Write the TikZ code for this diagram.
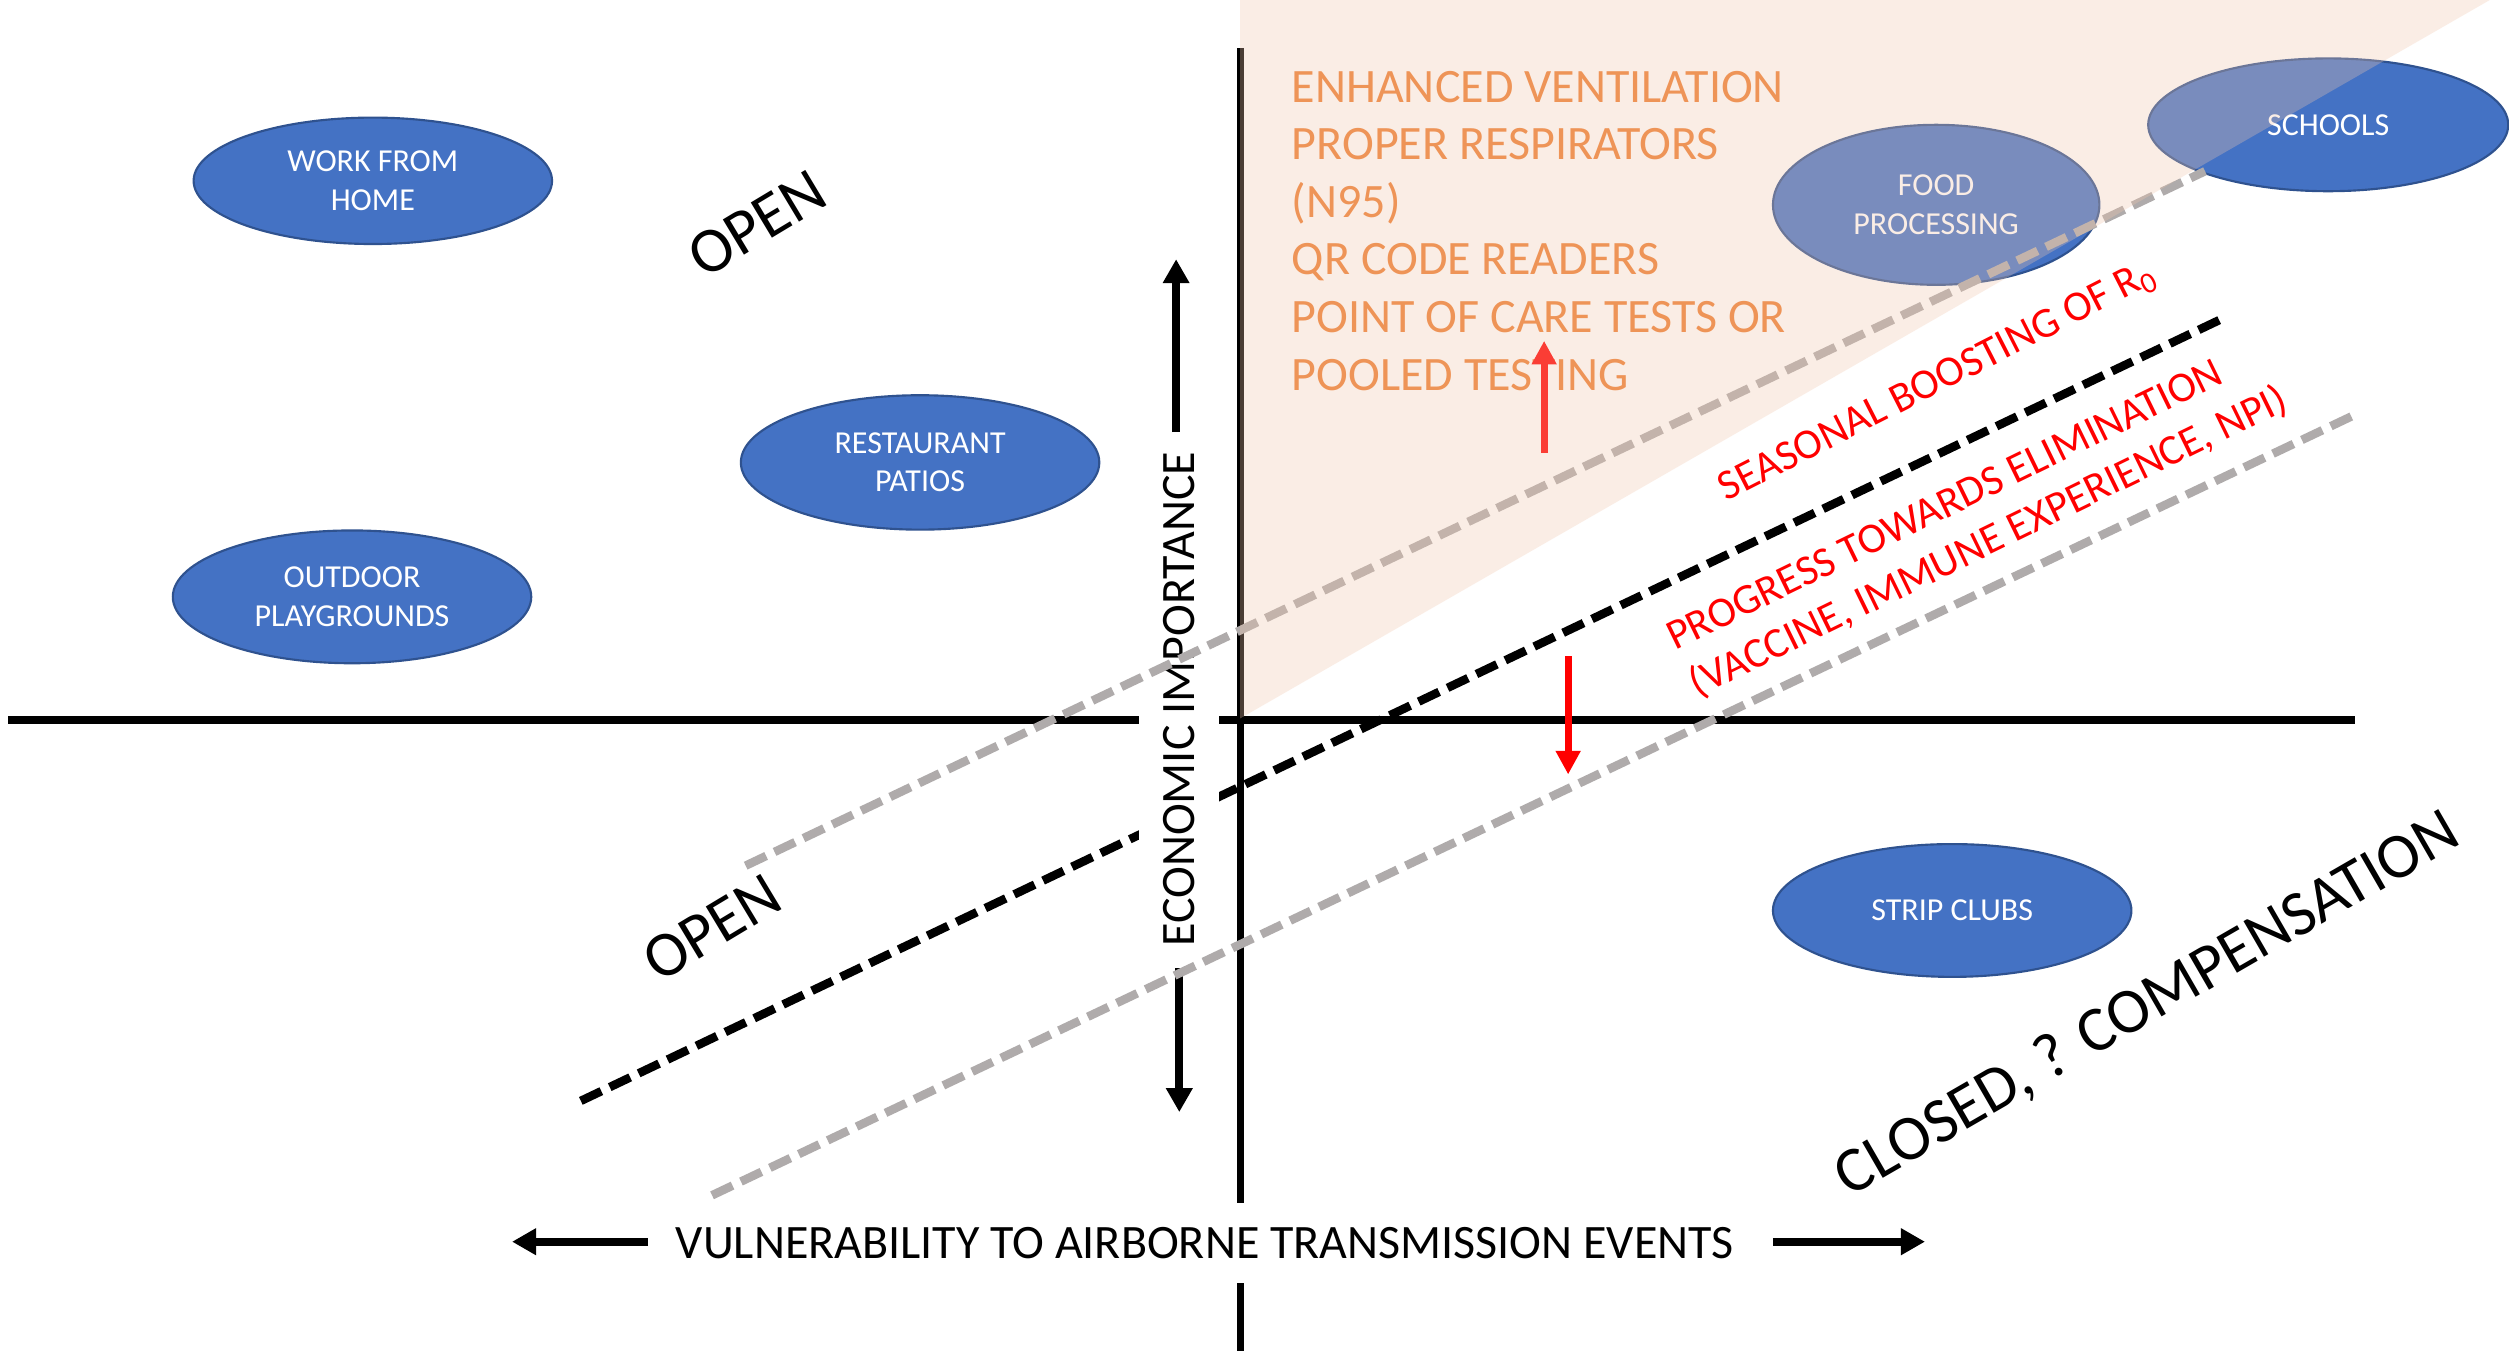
\documentclass[tikz,border=0pt]{standalone}
\usepackage{fontspec}
\setmainfont{Carlito}
\usetikzlibrary{arrows.meta,shapes.geometric}

\definecolor{zoneblue}{HTML}{4472C4}
\definecolor{zoneedge}{HTML}{2F528F}
\definecolor{measurecol}{HTML}{ED7D31}
\definecolor{peach}{RGB}{242,200,174}
\definecolor{softgray}{HTML}{AFABAB}

\begin{document}
\begin{tikzpicture}[x=0.6pt,y=-0.6pt,
  zone/.style={ellipse, fill=zoneblue, draw=zoneedge, line width=0.8pt,
    inner sep=0pt, text=white, align=center,
    font=\fontsize{12}{14.4}\selectfont},
  axisline/.style={line width=2.7pt},
  blackdash/.style={line width=3.2pt, dash pattern=on 8.5pt off 3.5pt},
  graydash/.style={softgray, line width=3.2pt, dash pattern=on 8.5pt off 3.5pt},
  bigarrow/.style={line width=2.9pt, -{Triangle[width=9.5pt,length=9pt]}},
  redarrow/.style={red, line width=2.7pt, -{Triangle[width=8.8pt,length=8.8pt]}},
  axislabel/.style={fill=white, inner sep=0pt, font=\fontsize{18}{21.6}\selectfont},
  zonelabel/.style={font=\fontsize{24}{28.8}\selectfont},
  redlabel/.style={text=red, font=\fontsize{16}{19.5}\selectfont},
]
\useasboundingbox (0,0) rectangle (1568,844);
\fill[white] (0,0) rectangle (1568,844);

% activities
\node[zone, minimum width=134.4pt, minimum height=47.4pt] (wfh) at (233,113) {WORK FROM\\HOME};
\node[zone, minimum width=134.4pt, minimum height=50.4pt] (patios) at (575,289) {RESTAURANT\\PATIOS};
\node[zone, minimum width=134.4pt, minimum height=49.8pt] (playgrounds) at (220,373) {OUTDOOR\\PLAYGROUNDS};
\node[zone, minimum width=122.4pt, minimum height=60pt] (food) at (1210,128) {FOOD\\PROCESSING};
\node[zone, minimum width=135pt, minimum height=49.8pt] (schools) at (1455,78) {SCHOOLS};
\node[zone, minimum width=134.4pt, minimum height=49.8pt] (strip) at (1220,569) {STRIP CLUBS};

% axes
\coordinate (hL) at (5,450);
\coordinate (hR) at (1472,450);
\coordinate (vT) at (775,30);
\coordinate (vB) at (775,844);
\draw[axisline] (hL) -- (hR);
\draw[axisline] (vT) -- (vB);

% threshold line
\coordinate (bdA) at (363,688);
\coordinate (bdB) at (1387,200);
\draw[blackdash] (bdA) -- (bdB);

% vertical axis label with its arrows
\node[axislabel, rotate=90, minimum width=192pt, minimum height=30pt] (econ) at (737,437) {ECONOMIC IMPORTANCE};
\coordinate (upTail) at (735,270);
\coordinate (upTip) at (735,162);
\coordinate (downTail) at (737,605);
\coordinate (downTip) at (737,695);
\draw[bigarrow] (upTail) -- (upTip);
\draw[bigarrow] (downTail) -- (downTip);

% shifted thresholds
\coordinate (ugA) at (466,541);
\coordinate (ugB) at (1378,107);
\coordinate (lgA) at (445,747);
\coordinate (lgB) at (1470,260);
\draw[graydash] (ugA) -- (ugB);
\draw[graydash] (lgA) -- (lgB);

% horizontal axis label with its arrows
\node[axislabel, minimum width=414pt, minimum height=30pt] (vuln) at (753,777) {VULNERABILITY TO AIRBORNE TRANSMISSION EVENTS};
\coordinate (leftTail) at (405,776);
\coordinate (leftTip) at (320,776);
\coordinate (rightTail) at (1108,776);
\coordinate (rightTip) at (1203,776);
\draw[bigarrow] (leftTail) -- (leftTip);
\draw[bigarrow] (rightTail) -- (rightTip);

% region labels
\node[zonelabel, rotate=31] (openTop) at (473,140) {OPEN};
\node[zonelabel, rotate=31] (openBottom) at (445,580) {OPEN};
\node[zonelabel, rotate=30] (closed) at (1342,628) {CLOSED, ? COMPENSATION};

% shift annotations
\node[redlabel, rotate=27] (seasonal) at (1211,239) {SEASONAL BOOSTING OF R\textsubscript{0}};
\node[redlabel, rotate=26, align=left] (progress) at (1236,325) {PROGRESS TOWARDS ELIMINATION\\(VACCINE, IMMUNE EXPERIENCE, NPI)};

% mitigation measures
\node[anchor=north west, inner sep=0pt, align=left, text=measurecol,
  font=\fontsize{18}{21.6}\selectfont] (measures) at (807,44)
  {ENHANCED VENTILATION\\PROPER RESPIRATORS\\(N95)\\QR CODE READERS\\POINT OF CARE TESTS OR\\POOLED TESTING};

\coordinate (raiseTail) at (965,283);
\coordinate (raiseTip) at (965,213);
\coordinate (dropTail) at (980,410);
\coordinate (dropTip) at (980,484);
\draw[redarrow] (raiseTail) -- (raiseTip);
\draw[redarrow] (dropTail) -- (dropTip);

% mitigated zone overlay
\coordinate (triA) at (775,0);
\coordinate (triB) at (1556,0);
\coordinate (triC) at (775,449);
\fill[peach, fill opacity=0.31] (triA) -- (triB) -- (triC) -- cycle;
\end{tikzpicture}
\end{document}
